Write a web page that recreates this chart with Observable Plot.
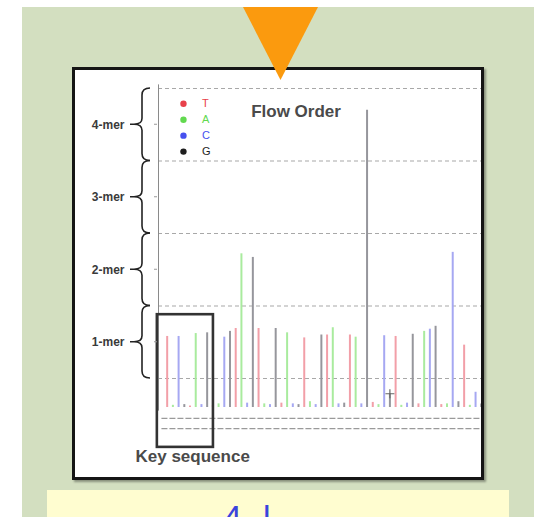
<!DOCTYPE html>
<html>
<head>
<meta charset="utf-8">
<script src="https://cdn.jsdelivr.net/npm/d3@7"></script>
<script src="https://cdn.jsdelivr.net/npm/@observablehq/plot@0.6"></script>
<style>
  html, body { margin: 0; padding: 0; background: #ffffff; overflow: hidden; }
  body { width: 553px; height: 517px; position: relative; font-family: "Liberation Sans", Arial, sans-serif; }
  #panel { position: absolute; left: 22px; top: 7px; width: 512px; height: 520px; background: #d3dfc0; }
  #frame { position: absolute; left: 72px; top: 67px; width: 406px; height: 407px; border: 3px solid #151515; background: #fff; box-shadow: 2px 2px 2px rgba(0,0,0,0.35); }
  #chart { position: absolute; left: 0; top: 0; }
  #tri { position: absolute; left: 243px; top: 7px; width: 75px; height: 73px; background: #fb9a0e; clip-path: polygon(0 0, 100% 0, 50% 100%); z-index: 5; }
  #yellow { position: absolute; left: 47px; top: 490px; width: 462px; height: 40px; background: #fffdd0; overflow: hidden; }
  #yellow span { position: absolute; top: 8px; font-size: 34px; color: #3a44dd; font-family: "Liberation Sans", Arial, sans-serif; }
</style>
</head>
<body>
<div id="panel"></div>
<div id="frame"><div id="chart"></div></div>
<div id="tri"></div>
<div id="yellow"><span style="left:176px">4</span><span style="left:216px">l</span></div>
<script>
// ---- data ----
const flowOrder = ["T", "A", "C", "G"];
const keySequence = ["T", "C", "A", "G"];
const signal = [
  0.98, 0.03, 0.98, 0.04,
  0.02, 1.02, 0.04, 1.03,
  0.03, 0.05, 0.97, 1.05,
  1.09, 2.12, 0.06, 2.07,
  1.09, 0.05, 0.04, 1.09,
  0.06, 1.03, 0.05, 0.04,
  0.96, 0.08, 0.04, 1.00,
  1.00, 1.10, 0.05, 0.06,
  1.00, 0.97, 0.05, 4.10,
  0.07, 0.04, 0.99, 0.19,
  0.98, 0.03, 0.06, 1.01,
  0.05, 1.05, 1.08, 1.12,
  0.04, 0.05, 2.14, 0.08,
  0.86, 0.03, 0.21, 0.05
];
const merLabels = ["1-mer", "2-mer", "3-mer", "4-mer"];
const merCenters = [0.9, 1.9, 2.9, 3.9];
const merBounds = [0.4, 1.4, 2.4, 3.4, 4.4];
const labelRows = [-0.15, -0.29];
const crossFlows = [40];

const barColor = {T: "#f29fa8", A: "#a9eb9e", C: "#a6a8f2", G: "#96969c"};
const legendColor = {T: "#e8414a", A: "#62d94f", C: "#4650ee", G: "#1e1e1e"};

const flows = signal.map((v, i) => ({flow: i + 1, base: flowOrder[i % 4], signal: v}));
const crosses = flows.filter(d => crossFlows.includes(d.flow));
const legend = flowOrder.map((b, i) => ({base: b, row: i}));
const xDomain = [-0.52, 56.04];

const braces = (index, scales, values, dim) => {
  const g = d3.create("svg:g");
  const ml = dim.marginLeft;
  const xr = ml - 8, xs = ml - 16, xp = ml - 24;
  for (let i = 0; i < merBounds.length - 1; i++) {
    const yt = scales.y(merBounds[i + 1]), yb = scales.y(merBounds[i]);
    const ym = (yt + yb) / 2;
    g.append("path")
      .attr("d", `M${xr},${yt} Q${xs},${yt} ${xs},${yt + 7} L${xs},${ym - 6} Q${xs},${ym} ${xp},${ym} Q${xs},${ym} ${xs},${ym + 6} L${xs},${yb - 7} Q${xs},${yb} ${xr},${yb} M${xp - 4},${ym} H${xp}`)
      .attr("fill", "none").attr("stroke", "#222").attr("stroke-width", 1.6);
    g.append("line").attr("x1", ml - 4).attr("x2", ml - 1).attr("y1", ym).attr("y2", ym)
      .attr("stroke", "#999").attr("stroke-width", 1);
  }
  return g.node();
};

const chart = Plot.plot({
  width: 406,
  height: 407,
  marginLeft: 83,
  marginRight: 0,
  marginTop: 10.75,
  marginBottom: 70,
  x: {domain: xDomain, axis: null},
  y: {domain: [0, 4.5], axis: null},
  style: {background: "transparent", fontFamily: "Liberation Sans, Arial, sans-serif"},
  marks: [
    Plot.ruleY(merBounds, {x1: xDomain[0], x2: xDomain[1], stroke: "#a8a8a8", strokeWidth: 1.2, strokeDasharray: "4,3"}),
    Plot.ruleY(labelRows, {x1: xDomain[0] + 0.6, x2: xDomain[1], stroke: "#9a9a9a", strokeWidth: 1.3, strokeDasharray: "6,2"}),
    Plot.ruleX([xDomain[0]], {y1: -0.05, y2: 4.45, stroke: "#8a8a8a", strokeWidth: 1}),
    Plot.ruleX(flows, {x: "flow", y1: 0, y2: "signal", stroke: d => barColor[d.base], strokeWidth: 2}),
    Plot.dot(crosses, {x: "flow", y: "signal", symbol: "plus", r: 3, stroke: "#666", strokeWidth: 1.2}),
    Plot.rect([keySequence], {x1: -0.72, x2: 9.1, y1: -0.55, y2: 1.28, fill: "none", stroke: "#333", strokeWidth: 2.6}),
    braces,
    Plot.text(merLabels, {y: (d, i) => merCenters[i], text: d => d, frameAnchor: "left", dx: -34, textAnchor: "end", fontSize: 12, fontWeight: "bold", fill: "#3a3a3a"}),
    Plot.dot(legend, {x: 3.85, y: d => 4.19 - d.row * 0.22, fill: d => legendColor[d.base], r: 3.2, symbol: "circle"}),
    Plot.text(legend, {x: 7.1, y: d => 4.19 - d.row * 0.22, text: "base", fill: d => legendColor[d.base], textAnchor: "start", fontSize: 11}),
    Plot.text(["Flow Order"], {frameAnchor: "top", dx: -24, dy: 24, fontSize: 17, fontWeight: "bold", fill: "#4a4a4a"}),
    Plot.text(["Key sequence"], {frameAnchor: "bottom-left", dx: -23, dy: 54, textAnchor: "start", fontSize: 17, fontWeight: "bold", fill: "#4a4a4a"})
  ]
});
document.getElementById("chart").appendChild(chart);
</script>
</body>
</html>
